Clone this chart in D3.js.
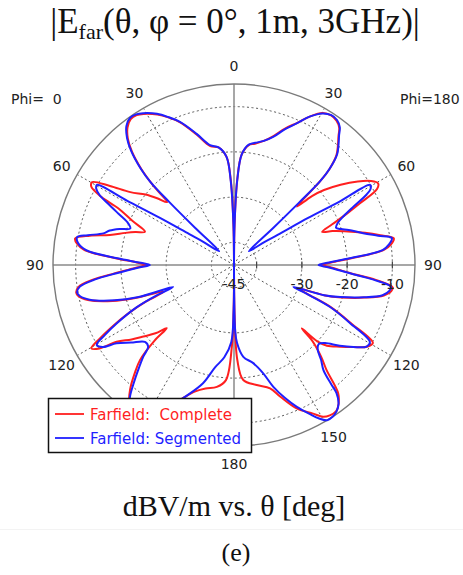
<!DOCTYPE html>
<html><head><meta charset="utf-8">
<script src="https://cdn.jsdelivr.net/npm/d3@7"></script>
<style>body{margin:0;background:#fff}svg{display:block}</style>
</head><body>
<svg id="chart" width="463" height="575"></svg>
<script>
// ---------- data (theta in degrees, value in dBV/m) ----------
const radialDomain = [-45, -5];
const gridLevels = [-40, -30, -20, -10];
const radialLabels = [-45, -30, -20, -10];
const angleLabelsRight = [0, 30, 60, 90, 120, 150, 180];
const angleLabelsLeft = [30, 60, 90, 120];   // left 150 lies under the legend
const spokeAngles = [30, 60, 120, 150];
const seriesNames = ["Farfield:  Complete", "Farfield: Segmented"];

// Phi = 180 side (drawn on the right)
const phi180Complete = [[0,-45],[0.8,-36],[2.2,-26],[4,-20.5],[7,-18.3],[9.8,-17.8],[13.5,-16.8],[17,-15.2],[20.5,-12.8],[24,-10.6],[27,-8.2],[30.3,-6.1],[33,-5.6],[35.4,-5.9],[37.5,-6.8],[39,-8.3],[41,-10],[43,-11.8],[44.8,-15],[45.8,-18.5],[46.5,-24],[47.2,-26],[48.5,-22],[50.2,-19.1],[53,-15.5],[56,-12],[58.5,-9.5],[60.5,-8.4],[62,-9.2],[63.9,-14],[65.5,-17.5],[67.5,-21.5],[69.4,-24.2],[71,-22],[73,-19.5],[76.2,-15.2],[78.5,-12],[80.5,-9.2],[82.5,-10],[84.3,-11.8],[86.7,-19],[88.5,-23.5],[90,-25.5],[91.5,-23.5],[94.1,-19],[96,-13.5],[98,-9.6],[99.5,-9.8],[101.5,-11.2],[104,-15.2],[106.8,-20.2],[108.5,-23.8],[110,-30],[111.5,-27.5],[113.6,-21.5],[116.6,-15.8],[119.3,-9.8],[121.6,-10.5],[124.5,-13],[127.6,-15.4],[131,-17.8],[132.5,-20],[133.1,-24.5],[134.1,-20.9],[136.5,-17],[138.6,-14.1],[140.9,-8.5],[143,-6.6],[145,-5.6],[147.5,-5.6],[149.6,-6.1],[152,-7.8],[156.4,-10.4],[160.7,-14.2],[163.7,-16.6],[169.3,-18],[175.4,-19.5],[178,-24],[179.3,-34],[180,-45]];
const phi180Segmented = [[0,-45],[0.8,-36],[2.2,-26.2],[4,-20.5],[7,-18.2],[9.8,-17.6],[13.5,-16.8],[17,-15.4],[20.5,-13],[24,-10.7],[27,-8.2],[30.3,-6.2],[33,-5.5],[35.4,-5.7],[37.5,-6.6],[39,-8.1],[41,-9.8],[43,-11.6],[44.8,-15],[45.8,-18.5],[46.2,-25],[46.6,-33],[47,-40.5],[50,-39.5],[53,-36.5],[55.4,-33.3],[57.6,-25.6],[59,-17.9],[59.5,-10.1],[60.8,-10.4],[62,-11.8],[64,-15.7],[66,-18.5],[68,-20.3],[70,-21],[71.5,-20],[73,-18.5],[76.2,-15.6],[78.5,-12.5],[80.3,-9.6],[82.5,-10.5],[84.3,-12],[86.7,-19.4],[88.5,-24],[90,-26.3],[91.5,-24],[94.1,-19.3],[96,-14],[97.9,-10],[99.5,-10.2],[101.5,-11.5],[104,-15.5],[106.8,-20.5],[108.5,-24],[110.2,-31],[111.5,-28],[113.6,-21.8],[116.6,-16.3],[119.5,-10.5],[121.6,-10.6],[124.5,-13],[127.4,-15.6],[130.6,-18.5],[133,-19.4],[135.3,-18.7],[137.5,-16.5],[139.6,-14.5],[140.8,-11],[141.3,-8.8],[143,-6.6],[145,-5.5],[147,-5.0],[149,-5.0],[151,-6.2],[153,-8],[156.1,-10.7],[159,-13.5],[162.1,-16.7],[164.9,-20.2],[168.9,-22.9],[174.2,-24.6],[177.8,-27.8],[179,-30.6],[179.6,-38],[180,-45]];

// Phi = 0 side (drawn on the left)
const phi0Complete = [[0,-45],[0.8,-36],[2.2,-26],[4,-21],[7.5,-18.8],[11.3,-18.2],[16,-15],[20.7,-11.3],[24,-9.3],[27,-7.7],[30.9,-6.1],[33,-5.5],[35.3,-5.5],[37.8,-6.6],[40.1,-8.6],[42,-11.3],[44,-15.5],[45.5,-20],[46.8,-24.7],[49,-22.5],[51.5,-20],[54.9,-17],[57.5,-12.5],[59.7,-8.7],[61.2,-9],[62.8,-12],[63.9,-16.5],[66.5,-20.5],[69.5,-24],[71.5,-22],[73.5,-20],[76.4,-16.8],[78.5,-12.5],[80.5,-9.4],[82.3,-10],[84.3,-11.8],[86.7,-18.8],[88.5,-23.5],[90,-25.5],[91.5,-23.5],[94,-18.5],[96,-13.5],[98,-10.3],[100,-9.6],[101.5,-10],[103.5,-11.8],[106.5,-17],[108.5,-22],[110.8,-28.5],[112.5,-24],[114.5,-19.5],[117,-14.5],[118.8,-11],[120.3,-8.5],[121.8,-10],[123.2,-14],[126,-17],[128.3,-19.5],[131,-22],[133.2,-24.6],[133.6,-20.7],[135.3,-15.5],[137.5,-12.5],[140.2,-9.1],[142.5,-7],[145,-5.8],[148,-5.4],[151,-6.5],[154,-9],[157,-11.8],[159.6,-13.9],[163,-15.8],[167,-17],[172,-17.8],[176,-19.5],[178.5,-27],[179.5,-35],[180,-45]];
const phi0Segmented = [[0,-45],[0.8,-36],[2.2,-26.5],[4,-21],[7.5,-18.8],[11.3,-18],[16,-14.8],[20.7,-11.2],[24,-9.2],[27,-7.5],[30.9,-5.9],[33,-5.3],[35.3,-5.2],[37.8,-6.2],[40.1,-8.3],[42,-11],[44,-15.2],[45.2,-19],[45.8,-25],[46.3,-33],[46.8,-40.5],[50,-39.5],[53,-36.5],[55.4,-33],[57.6,-25.5],[59,-17.5],[59.7,-9.9],[61,-10.2],[62.5,-11.5],[64,-14],[66,-17],[68,-19.5],[70.6,-20.7],[72.5,-18.5],[74.5,-16.5],[76.4,-15.3],[78.5,-12],[79.9,-9.8],[82,-10.2],[84.3,-12.2],[86.7,-19.2],[88.5,-24],[90,-26.4],[91.5,-24],[94,-19],[96,-14],[98,-10.6],[100,-9.8],[101.5,-10.3],[103.5,-12.2],[106.5,-17.5],[108.5,-22.5],[109.8,-30.7],[111.5,-26.5],[113.5,-21.5],[116.5,-16],[118.5,-12.5],[120.2,-9.9],[122,-10.8],[123.7,-13.8],[127,-16.5],[130.8,-19],[133.6,-18.8],[135.3,-16.5],[137.6,-13.6],[139.5,-11],[141.7,-7.9],[144,-5.8],[147,-5.2],[149.5,-5.4],[152,-7],[155,-10],[159.6,-13.9],[165.3,-18],[169.5,-22],[174,-24.5],[178,-28],[179.5,-35],[180,-45]];

// ---------- drawing ----------
const cx = 234, cy = 265, R = 181;
const RED = "#ff1f1f", BLUE = "#1f1fff";
const svg = d3.select("#chart");
const rScale = d3.scaleLinear().domain(radialDomain).range([0, R]).clamp(true);
const rad = d => d * Math.PI / 180;

// title
const title = svg.append("text").attr("x", 235).attr("y", 33)
  .attr("text-anchor", "middle").attr("font-family", "Liberation Serif, serif")
  .attr("font-size", 35).attr("fill", "#111");
title.append("tspan").text("|E");
title.append("tspan").attr("font-size", 22).attr("dy", 6).text("far");
title.append("tspan").attr("dy", -6).text("(θ, φ = 0°, 1m, 3GHz)|");

const g = svg.append("g").attr("transform", `translate(${cx},${cy})`);

// dotted grid circles
g.selectAll("circle.grid").data(gridLevels).join("circle")
  .attr("class", "grid").attr("r", d => rScale(d))
  .attr("fill", "none").attr("stroke", "#555").attr("stroke-width", 1)
  .attr("stroke-dasharray", "2,2.6");

// dotted spokes on both sides
const spokes = spokeAngles.flatMap(a => [a, -a]);
g.selectAll("line.spoke").data(spokes).join("line")
  .attr("class", "spoke")
  .attr("x1", 0).attr("y1", 0)
  .attr("x2", a => R * Math.sin(rad(a))).attr("y2", a => -R * Math.cos(rad(a)))
  .attr("stroke", "#555").attr("stroke-width", 1).attr("stroke-dasharray", "2,2.6");

// solid axes
g.append("line").attr("x1", 0).attr("x2", 0).attr("y1", -R).attr("y2", R)
  .attr("stroke", "#8a8a8a").attr("stroke-width", 1.5);
g.append("line").attr("y1", 0).attr("y2", 0).attr("x1", -R).attr("x2", R)
  .attr("stroke", "#8a8a8a").attr("stroke-width", 1.5);

// outer circle
g.append("circle").attr("r", R).attr("fill", "none")
  .attr("stroke", "#7a7a7a").attr("stroke-width", 1.4);

// radial ticks (right side)
g.selectAll("line.rtick").data(gridLevels).join("line")
  .attr("class", "rtick")
  .attr("x1", d => rScale(d)).attr("x2", d => rScale(d))
  .attr("y1", -3.5).attr("y2", 3.5)
  .attr("stroke", "#444").attr("stroke-width", 1.2);

// traces
const lineFor = sign => d3.lineRadial()
  .angle(d => sign * rad(d[0]))
  .radius(d => rScale(d[1]))
  .curve(d3.curveCatmullRom.alpha(0.5));

const traces = [
  {data: phi0Complete, sign: -1, color: RED},
  {data: phi180Complete, sign: 1, color: RED},
  {data: phi0Segmented, sign: -1, color: BLUE},
  {data: phi180Segmented, sign: 1, color: BLUE}
];
g.selectAll("path.trace").data(traces).join("path")
  .attr("class", "trace")
  .attr("d", t => lineFor(t.sign)(t.data))
  .attr("fill", "none").attr("stroke", t => t.color)
  .attr("stroke-width", 2).attr("stroke-linejoin", "round");

// radial labels
g.selectAll("text.rlabel").data(radialLabels).join("text")
  .attr("class", "rlabel")
  .attr("x", d => rScale(d)).attr("y", 24)
  .attr("text-anchor", "middle")
  .attr("font-family", "DejaVu Sans, sans-serif").attr("font-size", 14)
  .attr("fill", "#222").text(d => d);

// angle labels
const angleItems = angleLabelsRight.map(a => ({a, s: 1}))
  .concat(angleLabelsLeft.map(a => ({a, s: -1})));
g.selectAll("text.alabel").data(angleItems).join("text")
  .attr("class", "alabel")
  .attr("x", d => d.s * 199 * Math.sin(rad(d.a)))
  .attr("y", d => -199 * Math.cos(rad(d.a)))
  .attr("dy", "0.36em").attr("text-anchor", "middle")
  .attr("font-family", "DejaVu Sans, sans-serif").attr("font-size", 14)
  .attr("fill", "#222").text(d => d.a);

// Phi labels
svg.append("text").attr("x", 11).attr("y", 104)
  .attr("font-family", "DejaVu Sans, sans-serif").attr("font-size", 14)
  .attr("fill", "#222").style("white-space", "pre").text("Phi=  0");
svg.append("text").attr("x", 400).attr("y", 104)
  .attr("font-family", "DejaVu Sans, sans-serif").attr("font-size", 14)
  .attr("fill", "#222").text("Phi=180");

// legend
const lg = svg.append("g");
lg.append("rect").attr("x", 48.5).attr("y", 398.5).attr("width", 203).attr("height", 54)
  .attr("fill", "#fff").attr("stroke", "#111").attr("stroke-width", 1.5);
const legendColors = [RED, BLUE];
seriesNames.forEach((name, i) => {
  const y = 414 + i * 24;
  lg.append("line").attr("x1", 55).attr("x2", 84).attr("y1", y).attr("y2", y)
    .attr("stroke", legendColors[i]).attr("stroke-width", 1.8);
  lg.append("text").attr("x", 90).attr("y", y + 6)
    .attr("font-family", "DejaVu Sans, sans-serif").attr("font-size", 15)
    .attr("fill", legendColors[i]).style("white-space", "pre").text(name);
});

// bottom captions
svg.append("text").attr("x", 234).attr("y", 516).attr("text-anchor", "middle")
  .attr("font-family", "Liberation Serif, serif").attr("font-size", 30)
  .attr("fill", "#111").text("dBV/m vs. θ [deg]");
svg.append("line").attr("x1", 0).attr("x2", 463).attr("y1", 529.5).attr("y2", 529.5)
  .attr("stroke", "#f3f3f3").attr("stroke-width", 1);
svg.append("text").attr("x", 236).attr("y", 561).attr("text-anchor", "middle")
  .attr("font-family", "Liberation Serif, serif").attr("font-size", 26)
  .attr("fill", "#111").text("(e)");
</script>
</body></html>
